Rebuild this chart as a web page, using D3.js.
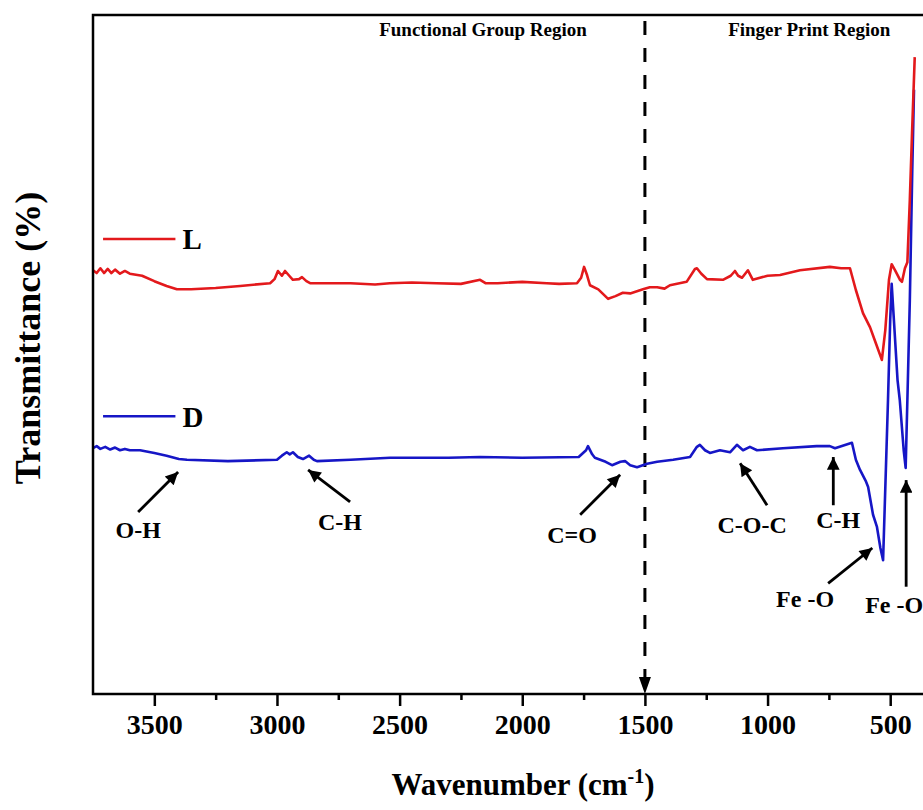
<!DOCTYPE html>
<meta charset="utf-8">
<script src="https://d3js.org/d3.v7.min.js"></script>
<style>
  body { margin: 0; background: #fff; }
  text { font-family: "Liberation Serif", "Times New Roman", serif; font-weight: bold; }
</style>
<div id="my_dataviz"></div>
<script>
// ---- data (wavenumber cm-1, transmittance in arbitrary %) ----
var wavenumberL = [3750,3735,3720,3705,3690,3675,3660,3640,3620,3600,3550,3500,3450,3408,3350,3250,3150,3028,3010,2996,2980,2967,2950,2935,2910,2898,2880,2865,2700,2600,2540,2450,2350,2250,2172,2150,2100,2000,1900,1850,1777,1760,1748,1736,1724,1690,1650,1620,1590,1560,1508,1480,1450,1420,1398,1330,1296,1288,1270,1247,1182,1150,1133,1120,1104,1080,1060,1000,949,868,746,700,664,640,611,582,560,534,520,505,494,480,460,452,440,430,420,411,400];
var transL = [62.4,62.0,62.7,62.0,62.6,62.0,62.5,61.9,62.3,61.9,61.6,60.8,60.1,59.6,59.6,59.8,60.1,60.5,61.1,62.3,61.6,62.3,61.6,61.0,61.1,61.4,60.8,60.5,60.5,60.3,60.5,60.6,60.5,60.4,61.0,60.5,60.5,60.7,60.5,60.4,60.5,61.3,62.9,61.7,60.2,59.6,58.2,58.6,59.1,59.0,59.6,59.9,59.9,59.7,60.2,60.7,62.6,62.7,61.9,61.1,61.0,61.6,62.3,61.6,61.3,62.4,61.0,61.6,61.7,62.4,62.9,62.7,62.7,59.5,56.1,54.0,51.8,49.2,53.6,61.0,63.3,62.4,61.0,60.7,62.7,63.6,72.8,82.6,93.8];

var wavenumberD = [3750,3735,3720,3700,3680,3660,3640,3620,3600,3558,3500,3450,3400,3367,3200,3000,2980,2960,2948,2935,2915,2894,2869,2850,2837,2700,2539,2300,2172,2000,1770,1740,1732,1715,1704,1660,1634,1600,1581,1560,1532,1491,1450,1385,1316,1288,1276,1255,1235,1194,1153,1125,1100,1072,1043,937,800,746,725,700,656,640,623,600,590,570,554,540,529,519,509,500,494,485,470,461,445,437,430,420,410,403];
var transD = [36.2,36.5,36.1,36.4,36.0,36.3,35.9,36.1,35.9,35.9,35.5,35.1,34.6,34.5,34.3,34.5,35.1,35.6,35.3,35.6,34.9,34.6,35.1,34.5,34.3,34.5,34.8,34.8,34.9,34.8,34.9,35.9,36.5,35.3,34.8,34.2,33.7,34.2,34.3,33.7,33.4,33.9,34.2,34.5,34.9,36.4,36.7,35.9,35.5,35.9,35.6,36.7,35.9,36.4,35.9,36.2,36.5,36.5,36.2,36.5,37.0,34.5,33.0,31.4,30.5,26.4,24.6,21.5,19.7,31.5,43.3,55.1,60.4,55.1,46.2,43.3,35.9,33.3,43.3,58.0,77.2,89.0];

var majorTicks = [3500,3000,2500,2000,1500,1000,500];
var minorTicks = [3250,2750,2250,1750,1250,750];

// arrows: tail (x1,y1) -> head (x2,y2), label at (tx,ty), all in data units
var annotations = [
  {text: "O-H",   x1: 3566, y1: 26.8, x2: 3403, y2: 32.7, tx: 3566, ty: 23.0, anchor: "middle"},
  {text: "C-H",   x1: 2702, y1: 28.3, x2: 2873, y2: 33.0, tx: 2743, ty: 24.2, anchor: "middle"},
  {text: "C=O",   x1: 1764, y1: 26.4, x2: 1601, y2: 32.3, tx: 1797, ty: 22.2, anchor: "middle"},
  {text: "C-O-C", x1: 1002, y1: 27.8, x2: 1112, y2: 34.0, tx: 1063, ty: 23.7, anchor: "middle"},
  {text: "C-H",   x1: 732,  y1: 27.8, x2: 732,  y2: 34.9, tx: 712,  ty: 24.4, anchor: "middle"},
  {text: "Fe -O", x1: 753,  y1: 16.3, x2: 573,  y2: 21.5, tx: 847,  ty: 12.8, anchor: "middle"},
  {text: "Fe -O", x1: 435,  y1: 15.8, x2: 435,  y2: 31.5, tx: 602,  ty: 11.9, anchor: "start"}
];

var series = [
  {name: "L", color: "#e3191c", wn: wavenumberL, t: transL, legendY: 67.0, textY: 65.5},
  {name: "D", color: "#1616c6", wn: wavenumberD, t: transD, legendY: 40.9, textY: 39.3}
];

// ---- layout ----
var margin = {top: 15, left: 93},
    width = 834,
    height = 679;

var svg = d3.select("#my_dataviz")
  .append("svg")
    .attr("width", 923)
    .attr("height", 810)
  .append("g")
    .attr("transform", "translate(" + margin.left + "," + margin.top + ")");

var x = d3.scaleLinear().domain([3750, 350]).range([0, width]);
var y = d3.scaleLinear().domain([0, 100]).range([height, 0]);

var defs = svg.append("defs");
defs.append("marker")
    .attr("id", "head")
    .attr("viewBox", "0 0 10 10")
    .attr("refX", 10).attr("refY", 5)
    .attr("markerWidth", 5.5).attr("markerHeight", 4.5)
    .attr("markerUnits", "strokeWidth")
    .attr("orient", "auto")
  .append("path")
    .attr("d", "M0,0 L10,5 L0,10 Z")
    .attr("fill", "#000");

// dashed divider at 1500 with arrow at the bottom
svg.append("line")
    .attr("x1", x(1500)).attr("x2", x(1500))
    .attr("y1", 6).attr("y2", height - 17)
    .attr("stroke", "#000")
    .attr("stroke-width", 3)
    .attr("stroke-dasharray", "14,13");
svg.append("path")
    .attr("d", d3.line()([[x(1500) - 6, height - 17], [x(1500) + 6, height - 17], [x(1500), height]]))
    .attr("fill", "#000");

// region labels
svg.append("text")
    .attr("x", x(2160)).attr("y", y(96.9))
    .attr("text-anchor", "middle")
    .style("font-size", "19px")
    .text("Functional Group Region");
svg.append("text")
    .attr("x", x(830)).attr("y", y(96.9))
    .attr("text-anchor", "middle")
    .style("font-size", "19px")
    .text("Finger Print Region");

// spectra
var line = d3.line()
    .x(function(d) { return x(d[0]); })
    .y(function(d) { return y(d[1]); });

series.slice().reverse().forEach(function(s) {
  svg.append("path")
      .datum(d3.zip(s.wn, s.t))
      .attr("fill", "none")
      .attr("stroke", s.color)
      .attr("stroke-width", 2.6)
      .attr("stroke-linejoin", "round")
      .attr("d", line);
});

// legend
series.forEach(function(s) {
  svg.append("line")
      .attr("x1", x(3709)).attr("x2", x(3414))
      .attr("y1", y(s.legendY)).attr("y2", y(s.legendY))
      .attr("stroke", s.color)
      .attr("stroke-width", 2.6);
  svg.append("text")
      .attr("x", x(3385)).attr("y", y(s.textY))
      .style("font-size", "29px")
      .text(s.name);
});

// annotation arrows + labels
annotations.forEach(function(a) {
  svg.append("line")
      .attr("x1", x(a.x1)).attr("y1", y(a.y1))
      .attr("x2", x(a.x2)).attr("y2", y(a.y2))
      .attr("stroke", "#000")
      .attr("stroke-width", 2.8)
      .attr("marker-end", "url(#head)");
  svg.append("text")
      .attr("x", x(a.tx)).attr("y", y(a.ty))
      .attr("text-anchor", a.anchor)
      .style("font-size", "24px")
      .text(a.text);
});

// x axis: major ticks with labels, minor ticks without
var xAxis = svg.append("g")
    .attr("transform", "translate(0," + height + ")")
    .call(d3.axisBottom(x).tickValues(majorTicks).tickSize(12).tickPadding(8).tickFormat(d3.format("d")));
xAxis.select(".domain").remove();
xAxis.selectAll("line").attr("stroke-width", 2.5);
xAxis.selectAll("text").style("font-size", "28px").attr("fill", "#000")
    .style("font-family", "'Liberation Serif', 'Times New Roman', serif").style("font-weight", "bold");

var xMinor = svg.append("g")
    .attr("transform", "translate(0," + height + ")")
    .call(d3.axisBottom(x).tickValues(minorTicks).tickSize(6).tickFormat(""));
xMinor.select(".domain").remove();
xMinor.selectAll("line").attr("stroke-width", 2.5);

// frame
svg.append("rect")
    .attr("x", 0).attr("y", 0)
    .attr("width", width).attr("height", height)
    .attr("fill", "none")
    .attr("stroke", "#000")
    .attr("stroke-width", 2.5);

// axis titles
var xt = svg.append("text")
    .attr("x", 430).attr("y", height + 101)
    .attr("text-anchor", "middle")
    .style("font-size", "31px");
xt.append("tspan").text("Wavenumber (cm");
xt.append("tspan").attr("dy", -12).style("font-size", "20px").text("-1");
xt.append("tspan").attr("dy", 12).text(")");

svg.append("text")
    .attr("transform", "translate(" + (40 - margin.left) + "," + (338 - margin.top) + ") rotate(-90)")
    .attr("text-anchor", "middle")
    .style("font-size", "36px")
    .text("Transmittance (%)");
</script>
